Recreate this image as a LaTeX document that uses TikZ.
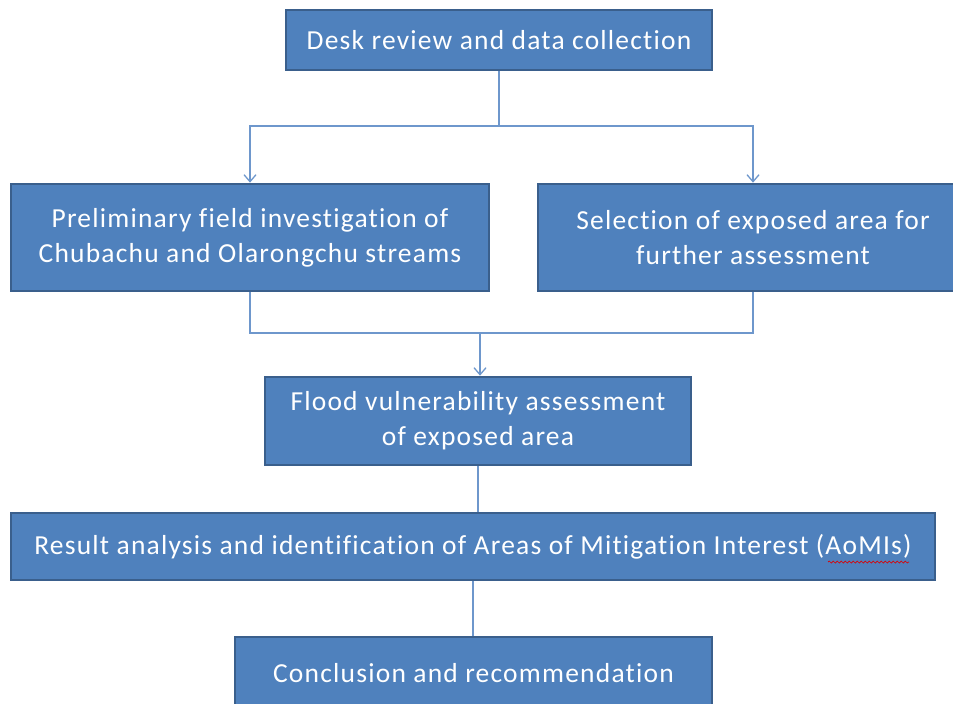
\documentclass[tikz,border=0pt]{standalone}
\usepackage{fontspec}
\setmainfont[Ligatures=NoCommon, LetterSpace=4.4]{Carlito}
\usetikzlibrary{arrows.meta,decorations.pathmorphing}
\definecolor{boxfill}{HTML}{4F81BD}
\definecolor{boxline}{HTML}{3A5F8C}
\definecolor{conn}{HTML}{6E97CC}
\tikzset{
  stepbox/.style={draw=boxline, line width=2.6pt, fill=boxfill, text=white,
    font=\fontsize{27.5}{35}\selectfont, align=center, inner sep=0pt, anchor=center},
  link/.style={draw=conn, line width=1.3pt},
  linkarrow/.style={link, -{Straight Barb[length=7pt,width=12pt,line width=1.3pt]}}
}
\begin{document}
\begin{tikzpicture}[x=1pt,y=-1pt]
\useasboundingbox (0,0) rectangle (953,704);
\clip (0,0) rectangle (953,704);
% nodes
\node[stepbox, minimum width=426pt, minimum height=60pt] (d) at (499,40) {Desk review and data collection};
\node[stepbox, minimum width=478pt, minimum height=107pt] (p) at (250,237.5) {Preliminary field investigation of\\Chubachu and Olarongchu streams};
\node[stepbox, minimum width=430pt, minimum height=107pt] (s) at (753,237.5) {Selection of exposed area for\\further assessment};
\node[stepbox, minimum width=426pt, minimum height=88pt] (f) at (478,421) {Flood vulnerability assessment\\of exposed area};
\node[stepbox, minimum width=924pt, minimum height=67pt] (r) at (473,546.5) {Result analysis and identification of Areas of Mitigation Interest (AoMIs)};
\node[stepbox, minimum width=477pt, minimum height=72pt] (c) at (473.5,673) {Conclusion and recommendation};
% connectors
\coordinate (j1) at (499,126);
\coordinate (j2) at (480,333);
\draw[link] (d.south) -- (j1);
\draw[linkarrow] (j1) -| (p.north);
\draw[linkarrow] (j1) -| (s.north);
\draw[link] (p.south) |- (j2);
\draw[link] (j2) -| (s.south);
\draw[linkarrow] (j2) -- (j2 |- f.north);
\draw[link] (f.south) -- (f.south |- r.north);
\draw[link] (r.south) -- (r.south |- c.north);
% spell-check squiggle
\draw[red!85!black, line width=0.7pt, decorate, decoration={snake, amplitude=1pt, segment length=4pt}] (828,562) -- (909,562);
\end{tikzpicture}
\end{document}
